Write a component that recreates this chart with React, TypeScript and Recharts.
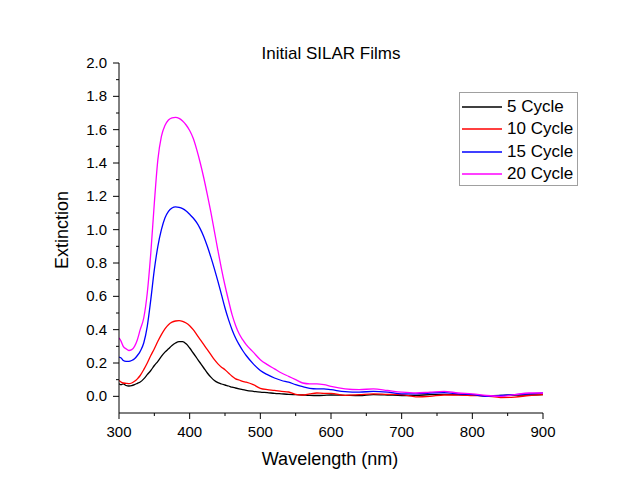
import React from "react";
import { LineChart, Line, XAxis, YAxis, Legend } from "recharts";

const wavelengths = [300, 303, 306, 310, 314, 318, 322, 326, 330, 335, 340, 345, 350, 355, 360, 365, 370, 375, 380, 385, 390, 395, 400, 405, 410, 415, 420, 425, 430, 435, 440, 445, 450, 455, 460, 465, 470, 475, 480, 490, 500, 510, 520, 530, 540, 550, 560, 570, 580, 590, 600, 620, 640, 660, 680, 700, 720, 740, 760, 780, 800, 820, 840, 860, 880, 900];

const cycle5 = [0.076, 0.07, 0.075, 0.065, 0.062, 0.064, 0.07, 0.078, 0.086, 0.105, 0.13, 0.155, 0.185, 0.21, 0.24, 0.265, 0.285, 0.305, 0.32, 0.328, 0.328, 0.315, 0.29, 0.26, 0.23, 0.2, 0.17, 0.14, 0.115, 0.095, 0.082, 0.074, 0.068, 0.062, 0.055, 0.05, 0.045, 0.04, 0.036, 0.03, 0.025, 0.022, 0.018, 0.015, 0.012, 0.01, 0.008, 0.006, 0.005, 0.006, 0.008, 0.006, 0.004, 0.01, 0.008, 0.005, 0.006, 0.01, 0.012, 0.01, 0.008, 0.004, 0.005, 0.008, 0.008, 0.01];

const cycle10 = [0.095, 0.085, 0.08, 0.078, 0.076, 0.08, 0.09, 0.105, 0.125, 0.16, 0.2, 0.245, 0.285, 0.33, 0.37, 0.405, 0.43, 0.445, 0.452, 0.454, 0.45, 0.44, 0.424, 0.4, 0.37, 0.34, 0.31, 0.28, 0.25, 0.22, 0.195, 0.175, 0.16, 0.14, 0.12, 0.105, 0.098, 0.09, 0.085, 0.07, 0.048, 0.04, 0.036, 0.03, 0.026, 0.012, 0.008, 0.015, 0.02, 0.018, 0.018, 0.006, 0.01, 0.015, 0.012, 0.01, -0.003, 0.0, 0.008, 0.008, 0.005, 0.002, -0.007, -0.005, 0.005, 0.01];

const cycle15 = [0.235, 0.23, 0.215, 0.21, 0.21, 0.215, 0.225, 0.245, 0.27, 0.32, 0.42, 0.58, 0.76, 0.9, 1.0, 1.07, 1.11, 1.13, 1.137, 1.134, 1.126, 1.112, 1.092, 1.07, 1.042, 1.005, 0.958, 0.9, 0.835, 0.765, 0.69, 0.61, 0.53, 0.46, 0.4, 0.35, 0.31, 0.275, 0.245, 0.195, 0.155, 0.13, 0.11, 0.095, 0.085, 0.07, 0.058, 0.048, 0.045, 0.045, 0.04, 0.028, 0.025, 0.03, 0.025, 0.015, 0.015, 0.02, 0.022, 0.015, 0.01, 0.0, 0.005, 0.01, 0.015, 0.02];

const cycle20 = [0.35, 0.33, 0.3, 0.285, 0.275, 0.28, 0.3, 0.34, 0.4, 0.47, 0.62, 0.86, 1.16, 1.42, 1.56, 1.625, 1.658, 1.671, 1.674, 1.668, 1.652, 1.628, 1.595, 1.548, 1.48, 1.4, 1.31, 1.21, 1.105, 0.99, 0.875, 0.765, 0.665, 0.575, 0.49, 0.425, 0.375, 0.34, 0.31, 0.265, 0.22, 0.19, 0.165, 0.14, 0.12, 0.1, 0.08, 0.075, 0.075, 0.07, 0.06, 0.045, 0.04, 0.045, 0.035, 0.025, 0.02, 0.025, 0.03, 0.02, 0.015, 0.005, 0.0, 0.01, 0.02, 0.02];

const seriesNames = ["5 Cycle", "10 Cycle", "15 Cycle", "20 Cycle"];
const seriesKeys = ["c5", "c10", "c15", "c20"];
const seriesColors = ["#000000", "#ff0000", "#0000ff", "#ff00ff"];

const xTicks = [300, 350, 400, 450, 500, 550, 600, 650, 700, 750, 800, 850, 900];
const yTicks = [0, 0.1, 0.2, 0.3, 0.4, 0.5, 0.6, 0.7, 0.8, 0.9, 1.0, 1.1, 1.2, 1.3, 1.4, 1.5, 1.6, 1.7, 1.8, 1.9, 2.0];

const data = wavelengths.map((w, i) => ({
  wl: w,
  c5: cycle5[i],
  c10: cycle10[i],
  c15: cycle15[i],
  c20: cycle20[i],
}));

const FONT = '"Liberation Sans", Arial, sans-serif';

const XTick = (props: any) => {
  const { x, y, payload } = props;
  const v = payload.value;
  const major = v % 100 === 0;
  return (
    <g>
      <line x1={x} y1={y} x2={x} y2={y + (major ? 6 : 3)} stroke="#000" strokeWidth={1} />
      {major && (
        <text x={x} y={y + 24} textAnchor="middle" fontSize={15} fontFamily={FONT} fill="#000">
          {v}
        </text>
      )}
    </g>
  );
};

const YTick = (props: any) => {
  const { x, y, payload } = props;
  const v = payload.value;
  const major = Math.round(v * 10) % 2 === 0;
  return (
    <g>
      <line x1={x} y1={y} x2={x - (major ? 6 : 3)} y2={y} stroke="#000" strokeWidth={1} />
      {major && (
        <text x={x - 12} y={y + 5} textAnchor="end" fontSize={15} fontFamily={FONT} fill="#000">
          {v.toFixed(1)}
        </text>
      )}
    </g>
  );
};

const LegendBox = () => (
  <div
    style={{
      border: "1px solid #a0a0a0",
      boxSizing: "border-box",
      width: 119,
      height: 94,
      paddingTop: 3,
      fontFamily: FONT,
      fontSize: 17,
      background: "#fff",
    }}
  >
    {seriesNames.map((n, i) => (
      <div key={n} style={{ display: "flex", alignItems: "center", height: 22.3 }}>
        <svg width={42} height={6} style={{ display: "block" }}>
          <line x1={2} y1={3} x2={42} y2={3} stroke={seriesColors[i]} strokeWidth={1.3} />
        </svg>
        <span style={{ marginLeft: 5, lineHeight: "22px", color: "#000" }}>{n}</span>
      </div>
    ))}
  </div>
);

export default function App() {
  return (
    <div style={{ position: "relative", width: 606, height: 477 }}>
      <LineChart width={606} height={477} data={data} margin={{ top: 55, right: 71, left: 51, bottom: 12 }}>
        <XAxis
          dataKey="wl"
          type="number"
          domain={[300, 900]}
          ticks={xTicks}
          interval={0}
          tickSize={0}
          tickMargin={0}
          tickLine={false}
          tick={<XTick />}
          height={60}
          axisLine={{ stroke: "#000", strokeWidth: 1 }}
          allowDataOverflow
        />
        <YAxis
          type="number"
          domain={[-0.1, 2.0]}
          ticks={yTicks}
          interval={0}
          tickSize={0}
          tickMargin={0}
          tickLine={false}
          tick={<YTick />}
          width={60}
          axisLine={{ stroke: "#000", strokeWidth: 1 }}
          allowDataOverflow
        />
        <Legend
          layout="vertical"
          align="center"
          verticalAlign="middle"
          content={() => <LegendBox />}
          wrapperStyle={{ left: 451, top: 84, width: 119, height: 94 }}
        />
        {seriesKeys.map((k, i) => (
          <Line
            key={k}
            type="monotone"
            dataKey={k}
            name={seriesNames[i]}
            stroke={seriesColors[i]}
            strokeWidth={1.3}
            dot={false}
            activeDot={false}
            isAnimationActive={false}
          />
        ))}
      </LineChart>
      <svg
        width={606}
        height={477}
        style={{ position: "absolute", left: 0, top: 0, pointerEvents: "none" }}
      >
        <text x={323} y={51} textAnchor="middle" fontSize={17} fontFamily={FONT} fill="#000">
          Initial SILAR Films
        </text>
        <text x={322} y={457} textAnchor="middle" fontSize={18} fontFamily={FONT} fill="#000">
          Wavelength (nm)
        </text>
        <text
          x={60}
          y={222}
          textAnchor="middle"
          fontSize={18}
          fontFamily={FONT}
          fill="#000"
          transform="rotate(-90, 60, 222)"
        >
          Extinction
        </text>
      </svg>
    </div>
  );
}
